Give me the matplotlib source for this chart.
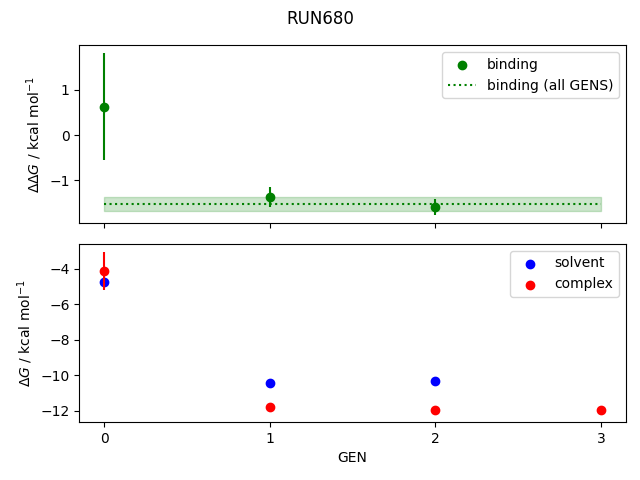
import matplotlib
matplotlib.use("Agg")
import matplotlib.pyplot as plt
import numpy as np

gens = [0, 1, 2, 3]

# binding free energy per GEN
binding_gens = [0, 1, 2]
binding = [0.625, -1.37, -1.59]
binding_err = [1.185, 0.23, 0.18]

# binding over all GENS
binding_all = -1.53
binding_all_err = 0.155

# solvent / complex legs
solvent_gens = [0, 1, 2]
solvent = [-4.73, -10.40, -10.29]
solvent_err = [0.05, 0.05, 0.05]
complex_gens = [0, 1, 2, 3]
complex_ = [-4.11, -11.76, -11.93, -11.93]
complex_err = [1.07, 0.1, 0.23, 0.1]

fig, (ax1, ax2) = plt.subplots(2, 1, sharex=True, figsize=(6.4, 4.8))
fig.suptitle("RUN680")

ax1.scatter(binding_gens, binding, color="green", label="binding")
ax1.errorbar(binding_gens, binding, yerr=binding_err, color="green", linestyle="none")
ax1.plot([gens[0], gens[-1]], [binding_all, binding_all], color="green", linestyle=":",
         label="binding (all GENS)")
ax1.fill_between([gens[0], gens[-1]], binding_all - binding_all_err,
                 binding_all + binding_all_err, color="green", alpha=0.2)
ax1.set_ylabel(r"$\Delta\Delta G$ / kcal mol$^{-1}$")
ax1.legend()

ax2.scatter(solvent_gens, solvent, color="blue", label="solvent")
ax2.errorbar(solvent_gens, solvent, yerr=solvent_err, color="blue", linestyle="none")
ax2.scatter(complex_gens, complex_, color="red", label="complex")
ax2.errorbar(complex_gens, complex_, yerr=complex_err, color="red", linestyle="none")
ax2.set_ylabel(r"$\Delta G$ / kcal mol$^{-1}$")
ax2.set_xlabel("GEN")
ax2.set_xticks(gens)
ax2.legend()

fig.subplots_adjust(left=0.124, right=0.978, top=0.906, bottom=0.121, hspace=0.116)
plt.savefig("out.png", dpi=100)
